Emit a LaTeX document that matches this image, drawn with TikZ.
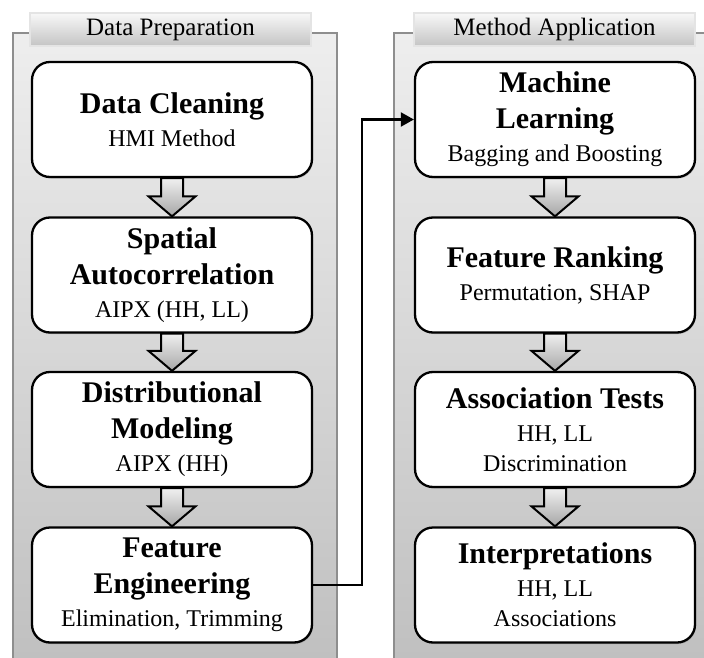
\documentclass[tikz,border=0pt]{standalone}
\usepackage{fontspec}
\setmainfont{Liberation Serif}
\usetikzlibrary{arrows.meta,shadows,calc}
\definecolor{panelTop}{HTML}{EEEEEE}
\definecolor{panelBot}{HTML}{C0C0C0}
\definecolor{panelLine}{HTML}{8E8E8E}
\definecolor{tabTop}{HTML}{F8F8F8}
\definecolor{tabBot}{HTML}{C4C4C4}
\definecolor{tabLine}{HTML}{E4E4E4}
\definecolor{arrTop}{HTML}{F0F0F0}
\definecolor{arrBot}{HTML}{A6A6A6}
\newcommand{\ttl}{\bfseries\fontsize{30}{36}\selectfont}
\newcommand{\blockarr}[2]{%
  \draw[barrow] let \p1=(#1.south), \p2=(#2.north) in
    (\x1-11pt,\y1) -- (\x1-11pt,\y2+20pt) -- (\x1-23.5pt,\y2+20pt) -- (\x1,\y2)
    -- (\x1+23.5pt,\y2+20pt) -- (\x1+11pt,\y2+20pt) -- (\x1+11pt,\y1) -- cycle;}
\begin{document}
\begin{tikzpicture}[x=1pt,y=-1pt,
  panel/.style={top color=panelTop,bottom color=panelBot},
  panelline/.style={draw=panelLine,line width=2pt},
  tab/.style={rectangle,minimum width=281pt,minimum height=33pt,inner sep=0pt,
    top color=tabTop,bottom color=tabBot,draw=tabLine,line width=1.2pt,
    drop shadow={shadow xshift=1pt,shadow yshift=-1.5pt,opacity=0.35},
    font=\fontsize{25}{30}\selectfont},
  box/.style={rectangle,rounded corners=18pt,minimum width=280pt,minimum height=115pt,
    inner sep=0pt,fill=white,draw=black,line width=2.3pt,align=center,
    font=\fontsize{24}{30}\selectfont,
    drop shadow={shadow xshift=1pt,shadow yshift=-1.5pt,opacity=0.4}},
  barrow/.style={draw=black,line width=2pt,line join=miter,top color=arrTop,bottom color=arrBot},
  conn/.style={draw=black,line width=2.2pt,-{Triangle[length=13pt,width=14pt]}}
]
\useasboundingbox (0,0) rectangle (704,658);
\fill[white] (0,0) rectangle (704,658);
% panels
\fill[panel] (13,33) rectangle (337,658);
\draw[panelline] (13,658) -- (13,33) -- (337,33) -- (337,658);
\fill[panel] (394,33) rectangle (704,658);
\draw[panelline] (394,658) -- (394,33) -- (704,33);
% tabs
\node[tab] (tabL) at (170.5,29.5) {Data Preparation};
\node[tab] (tabR) at (554.5,29.5) {Method Application};
% left column
\node[box] (dc) at (172,119.5) {{\ttl Data Cleaning}\\[3pt]HMI Method};
\node[box] (sa) at (172,275) {{\ttl Spatial}\\[6pt]{\ttl Autocorrelation}\\[3pt]AIPX (HH, LL)};
\node[box] (dm) at (172,429.5) {{\ttl Distributional}\\[6pt]{\ttl Modeling}\\[3pt]AIPX (HH)};
\node[box] (fe) at (172,585) {{\ttl Feature}\\[6pt]{\ttl Engineering}\\[3pt]Elimination, Trimming};
% right column
\node[box] (ml) at (555,119.5) {{\ttl Machine}\\[6pt]{\ttl Learning}\\[3pt]Bagging and Boosting};
\node[box] (fr) at (555,275) {{\ttl Feature Ranking}\\[3pt]Permutation, SHAP};
\node[box] (at) at (555,429.5) {{\ttl Association Tests}\\[3pt]HH, LL\\Discrimination};
\node[box] (ip) at (555,585) {{\ttl Interpretations}\\[3pt]HH, LL\\Associations};
% block arrows
\blockarr{dc}{sa}
\blockarr{sa}{dm}
\blockarr{dm}{fe}
\blockarr{ml}{fr}
\blockarr{fr}{at}
\blockarr{at}{ip}
% connector
\coordinate (bend) at (362,0);
\draw[conn] (fe.east) -- (fe.east -| bend) |- (ml.west);
\end{tikzpicture}
\end{document}
